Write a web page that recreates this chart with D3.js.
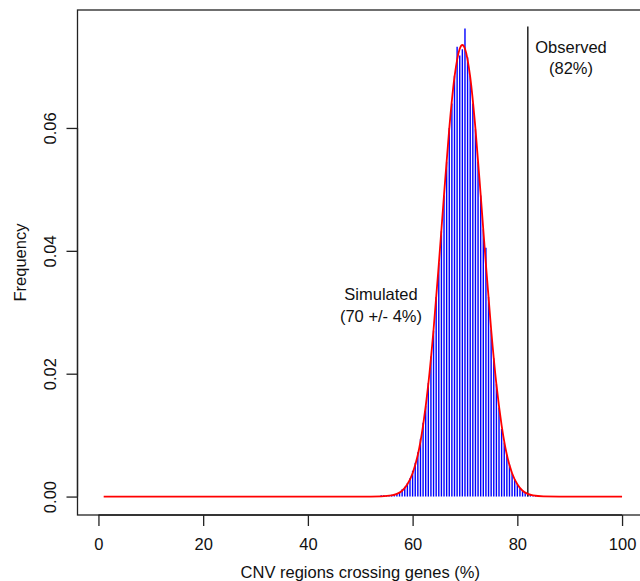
<!DOCTYPE html>
<html>
<head>
<meta charset="utf-8">
<script src="https://cdn.jsdelivr.net/npm/d3@7"></script>
<style>
  body { margin: 0; background: #fff; }
  svg { display: block; font-family: "Liberation Sans", Arial, sans-serif; }
</style>
</head>
<body>
<svg id="chart" width="640" height="581"></svg>
<script>
// simulated frequencies (blue bars), one every 0.5 %
var barX = [54, 54.5, 55, 55.5, 56, 56.5, 57, 57.5, 58, 58.5, 59, 59.5, 60, 60.5, 61, 61.5,
  62, 62.5, 63, 63.5, 64, 64.5, 65, 65.5, 66, 66.5, 67, 67.5, 68, 68.5, 69, 69.5,
  70, 70.5, 71, 71.5, 72, 72.5, 73, 73.5, 74, 74.5, 75, 75.5, 76, 76.5, 77, 77.5,
  78, 78.5, 79, 79.5, 80, 80.5, 81, 81.5, 82, 82.5, 83, 83.5];
var barY = [0.0002, 0.0002, 0.0001, 0.0002, 0.0003, 0.0004, 0.0006, 0.0007, 0.0012, 0.0016, 0.0022, 0.0030, 0.0042, 0.0055, 0.0072, 0.0094,
  0.0120, 0.0148, 0.0185, 0.0228, 0.0270, 0.0325, 0.0380, 0.0432, 0.0490, 0.0545, 0.0600, 0.0640, 0.0685, 0.0732, 0.0718, 0.0728,
  0.0762, 0.0715, 0.0685, 0.0640, 0.0598, 0.0545, 0.0490, 0.0435, 0.0405, 0.0325, 0.0272, 0.0225, 0.0183, 0.0145, 0.0110, 0.0088,
  0.0068, 0.0052, 0.0038, 0.0028, 0.0020, 0.0014, 0.0010, 0.0006, 0.0004, 0.0003, 0.0002, 0.0001];

// fitted normal curve (red)
var curveX = [1, 50, 52, 54, 56, 57, 58, 59, 60, 61, 62, 63, 64, 65, 66, 67, 68, 69, 69.5,
  70, 71, 72, 73, 74, 75, 76, 77, 78, 79, 80, 81, 82, 83, 85, 88, 100];
var curveY = [0, 0, 0.000003, 0.00003, 0.00018, 0.00043, 0.00095, 0.0020, 0.0038, 0.0068, 0.0116, 0.0183, 0.0272, 0.0378, 0.0491, 0.0599, 0.0683, 0.0729, 0.0735,
  0.0729, 0.0683, 0.0599, 0.0491, 0.0378, 0.0272, 0.0183, 0.0116, 0.0068, 0.0038, 0.0020, 0.00095, 0.00043, 0.00018, 0.00003, 0.000003, 0];

var observed = 82;
var observedTop = 0.0765;

var xTicks = [0, 20, 40, 60, 80, 100];
var yTicks = [0.00, 0.02, 0.04, 0.06];

var fontSize = 16.5;

var svg = d3.select("#chart");

var x = d3.scaleLinear().domain([-4, 104]).range([77.5, 643]);
var y = d3.scaleLinear().domain([-0.003, 0.0792]).range([515, 10]);

// plot box
svg.append("rect")
  .attr("x", x(-4)).attr("y", y(0.0792))
  .attr("width", x(104) - x(-4)).attr("height", y(-0.003) - y(0.0792))
  .attr("fill", "none").attr("stroke", "#222").attr("stroke-width", 1.3);

// x axis
var xAxis = svg.append("g").attr("transform", "translate(0," + y(-0.003) + ")")
  .call(d3.axisBottom(x).tickValues(xTicks).tickSize(11).tickPadding(12).tickFormat(d3.format("d")));
xAxis.select(".domain").attr("d", "M" + x(0) + ",0H" + x(100)).attr("stroke", "#222").attr("stroke-width", 1.3);
xAxis.selectAll(".tick line").attr("stroke", "#222").attr("stroke-width", 1.3);
xAxis.selectAll(".tick text").attr("font-size", fontSize).attr("fill", "#111")
  .attr("font-family", "Liberation Sans, Arial, sans-serif");

// y axis
var yAxis = svg.append("g").attr("transform", "translate(" + x(-4) + ",0)")
  .call(d3.axisLeft(y).tickValues(yTicks).tickSize(11).tickFormat(d3.format(".2f")));
yAxis.select(".domain").attr("d", "M0," + y(0) + "V" + y(0.06)).attr("stroke", "#222").attr("stroke-width", 1.3);
yAxis.selectAll(".tick line").attr("stroke", "#222").attr("stroke-width", 1.3);
yAxis.selectAll(".tick text")
  .attr("font-size", fontSize).attr("fill", "#111")
  .attr("font-family", "Liberation Sans, Arial, sans-serif")
  .attr("x", null).attr("dy", null)
  .attr("text-anchor", "middle")
  .attr("transform", "translate(-27,0) rotate(-90)")
  .attr("y", 0).attr("dy", "0.35em");

// axis titles
svg.append("text")
  .attr("x", (x(-4) + x(104)) / 2).attr("y", 578)
  .attr("text-anchor", "middle").attr("font-size", fontSize).attr("fill", "#111")
  .text("CNV regions crossing genes (%)");

svg.append("text")
  .attr("transform", "translate(26," + (y(-0.003) + y(0.0792)) / 2 + ") rotate(-90)")
  .attr("text-anchor", "middle").attr("font-size", fontSize).attr("fill", "#111")
  .text("Frequency");

// bars
svg.append("g").selectAll("line")
  .data(barX)
  .enter().append("line")
  .attr("x1", function(d) { return x(d); })
  .attr("x2", function(d) { return x(d); })
  .attr("y1", y(0))
  .attr("y2", function(d, i) { return y(barY[i]); })
  .attr("stroke", "#0000ff")
  .attr("stroke-width", 1.4);

// observed line
svg.append("line")
  .attr("x1", x(observed)).attr("x2", x(observed))
  .attr("y1", y(0)).attr("y2", y(observedTop))
  .attr("stroke", "#222").attr("stroke-width", 1.5);

// fitted curve
var line = d3.line()
  .x(function(d) { return x(d); })
  .y(function(d, i) { return y(curveY[i]); })
  .curve(d3.curveMonotoneX);

svg.append("path")
  .datum(curveX)
  .attr("d", line)
  .attr("fill", "none")
  .attr("stroke", "#ff0000")
  .attr("stroke-width", 1.8);

// labels
var obs = svg.append("text").attr("text-anchor", "middle").attr("font-size", fontSize).attr("fill", "#111");
obs.append("tspan").attr("x", 571).attr("y", 53).text("Observed");
obs.append("tspan").attr("x", 571).attr("y", 74).text("(82%)");

var sim = svg.append("text").attr("text-anchor", "middle").attr("font-size", fontSize).attr("fill", "#111");
sim.append("tspan").attr("x", 381).attr("y", 300).text("Simulated");
sim.append("tspan").attr("x", 381).attr("y", 322).text("(70 +/- 4%)");
</script>
</body>
</html>
